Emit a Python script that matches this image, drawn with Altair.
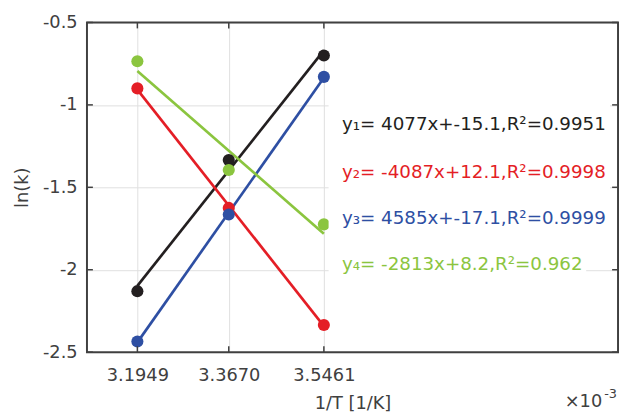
import altair as alt
import pandas as pd

# ---- data ----
x_vals = [3.1949, 3.3670, 3.5461]          # 1/T in units of 1e-3 1/K
y1 = [-2.13, -1.335, -0.70]
y2 = [-0.90, -1.625, -2.335]
y3 = [-2.435, -1.665, -0.83]
y4 = [-0.735, -1.395, -1.725]
series_names = ["y1", "y2", "y3", "y4"]
colors = ["#231F20", "#E41E26", "#2E4FA3", "#8BC53F"]
labels = [
    "y\u2081= 4077x+-15.1,R\u00b2=0.9951",
    "y\u2082= -4087x+12.1,R\u00b2=0.9998",
    "y\u2083= 4585x+-17.1,R\u00b2=0.9999",
    "y\u2084= -2813x+8.2,R\u00b2=0.962",
]
label_x = [3.58, 3.58, 3.58, 3.58]
label_y = [-1.117, -1.41, -1.686, -1.967]
box_x1 = [3.555, 3.555, 3.555, 3.555]
box_x2 = [4.085, 4.085, 4.085, 4.04]
box_half = [0.13, 0.13, 0.13, 0.13]
x_ticks = [3.1949, 3.3670, 3.5461]
y_ticks = [-2.5, -2.0, -1.5, -1.0, -0.5]
x_domain = [3.1, 4.1]
y_domain = [-2.5, -0.5]

W, H = 538, 334
FONT = "DejaVu Sans"
AX = "#404040"

rows = []
for name, ys in zip(series_names, [y1, y2, y3, y4]):
    for xv, yv in zip(x_vals, ys):
        rows.append({"x": xv, "y": yv, "series": name})
df = pd.DataFrame(rows)

ann = pd.DataFrame({
    "series": series_names, "label": labels, "lx": label_x, "ly": label_y,
    "bx1": box_x1, "bx2": box_x2,
    "by1": [a - b for a, b in zip(label_y, box_half)],
    "by2": [a + b for a, b in zip(label_y, box_half)],
})
xt = pd.DataFrame({"v": x_ticks})
yt = pd.DataFrame({"v": y_ticks})

xscale = alt.Scale(domain=x_domain, nice=False, zero=False)
yscale = alt.Scale(domain=y_domain, nice=False, zero=False)
xaxis = alt.Axis(values=x_ticks, format=".4f", title="1/T [1/K]", grid=True,
                 ticks=False, tickSize=0, domain=False, labelPadding=15,
                 titlePadding=10)
yaxis = alt.Axis(values=y_ticks, labelExpr="datum.value + ''", title="ln(k)",
                 grid=True, ticks=False, tickSize=0, domain=False,
                 labelPadding=10, titlePadding=11)
cscale = alt.Scale(domain=series_names, range=colors)


def X(f):
    return alt.X(f, type="quantitative", scale=xscale, axis=xaxis)


def Y(f):
    return alt.Y(f, type="quantitative", scale=yscale, axis=yaxis)


color = alt.Color("series:N", scale=cscale, legend=None)

lines = alt.Chart(df).transform_regression(
    "x", "y", groupby=["series"]
).mark_line(strokeWidth=2.7).encode(x=X("x"), y=Y("y"), color=color)

points = alt.Chart(df).mark_circle(size=150, opacity=1).encode(
    x=X("x"), y=Y("y"), color=color)

boxes = alt.Chart(ann).mark_rect(fill="white", stroke=None).encode(
    x=X("bx1"), x2="bx2", y=Y("by1"), y2="by2")

texts = alt.Chart(ann).mark_text(
    align="left", baseline="middle", font=FONT, fontSize=18.5
).encode(x=X("lx"), y=Y("ly"), text="label:N", color=color)

tick_style = dict(color=AX, strokeWidth=1.5)
xt_bottom = alt.Chart(xt).mark_rule(**tick_style).encode(
    x=X("v"), y=alt.value(H), y2=alt.value(H - 6))
xt_top = alt.Chart(xt).mark_rule(**tick_style).encode(
    x=X("v"), y=alt.value(0), y2=alt.value(6))
yt_left = alt.Chart(yt).mark_rule(**tick_style).encode(
    y=Y("v"), x=alt.value(0), x2=alt.value(6))
yt_right = alt.Chart(yt).mark_rule(**tick_style).encode(
    y=Y("v"), x=alt.value(W), x2=alt.value(W - 6))

frame = alt.Chart(pd.DataFrame({"a": [0]})).mark_rect(
    fill=None, filled=False, stroke=AX, strokeWidth=2
).encode(x=alt.value(0), x2=alt.value(W), y=alt.value(0), y2=alt.value(H))

exp_main = alt.Chart(pd.DataFrame({"t": ["\u00d710"]})).mark_text(
    align="left", baseline="alphabetic", font=FONT, fontSize=18, color=AX
).encode(x=alt.value(484), y=alt.value(390), text="t:N")
exp_sup = alt.Chart(pd.DataFrame({"t": ["-3"]})).mark_text(
    align="left", baseline="alphabetic", font=FONT, fontSize=13, color=AX
).encode(x=alt.value(524), y=alt.value(380), text="t:N")

chart = alt.layer(
    lines, points, boxes, texts, xt_bottom, xt_top, yt_left, yt_right,
    frame, exp_main, exp_sup
).properties(
    width=W, height=H,
    autosize=alt.AutoSizeParams(type="none"),
    padding={"left": 80, "top": 12, "right": 2, "bottom": 59},
).configure_view(stroke=None).configure_axis(
    labelFont=FONT, labelFontSize=18, labelColor=AX,
    titleFont=FONT, titleFontSize=18, titleFontWeight="normal", titleColor=AX,
    gridColor="#E0E0E0", gridWidth=1,
)

chart.save("out.html", embed_options={"renderer": "svg", "actions": False})
